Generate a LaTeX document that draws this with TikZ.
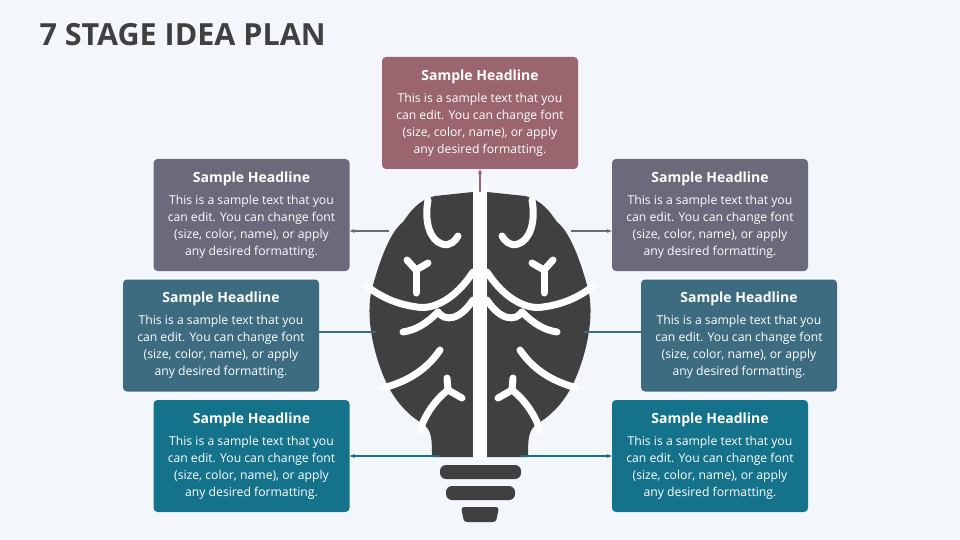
\documentclass[tikz,border=0pt]{standalone}
\usepackage{fontspec}
\setmainfont{Open Sans}
\usetikzlibrary{arrows.meta}
\definecolor{bgc}{HTML}{F3F7FB}
\definecolor{dark}{HTML}{404040}
\definecolor{cA}{HTML}{9B6570}
\definecolor{cB}{HTML}{6A6A7A}
\definecolor{cC}{HTML}{3D6C80}
\definecolor{cD}{HTML}{14728B}
\begin{document}
\begin{tikzpicture}[x=1pt,y=-1pt,
  box/.style={rounded corners=4pt,minimum width=196pt,minimum height=112pt,text=white,align=center,font=\fontsize{12.2}{17}\selectfont,inner sep=0pt},
  con/.style={line width=1.2pt,-{Stealth[length=5pt,width=4pt]}},
  groove/.style={white,line width=7pt,line cap=round}]
\fill[bgc] (0,0) rectangle (960,540);
\useasboundingbox (0,0) rectangle (960,540);
\node[anchor=west,text=dark,font=\bfseries\fontsize{30.5}{36}\selectfont] (title) at (36,35) {7 STAGE IDEA PLAN};
\newcommand{\boxtext}{{\bfseries\fontsize{14}{17}\selectfont Sample Headline}\\[5pt]This is a sample text that you\\can edit. You can change font\\(size, color, name), or apply\\any desired formatting.}
\node[box,fill=cA] (b1) at (480,113) {\boxtext};
\node[box,fill=cB] (b2) at (251.5,215) {\boxtext};
\node[box,fill=cB] (b3) at (710,215) {\boxtext};
\node[box,fill=cC] (b4) at (221,335.5) {\boxtext};
\node[box,fill=cC] (b5) at (739,335.5) {\boxtext};
\node[box,fill=cD] (b6) at (251.5,456) {\boxtext};
\node[box,fill=cD] (b7) at (710,456) {\boxtext};
% brain
\foreach \s in {1,-1}{
\begin{scope}[xshift=480pt,xscale=\s]
\fill[dark] (-7,192) -- (-45,196) .. controls (-62,200) and (-70,212) .. (-77,222)
 .. controls (-90,232) and (-100,260) .. (-107,285) .. controls (-115,310) and (-108,345) .. (-100,367)
 .. controls (-92,390) and (-80,410) .. (-57,424) .. controls (-48,430) and (-48,440) .. (-48,457)
 -- (-7,457) -- cycle;
\draw[groove] (-52,200) .. controls (-56,222) and (-50,240) .. (-38,244) .. controls (-30,247) and (-24,240) .. (-22,236);
\draw[groove] (-73,260) -- (-64,270) -- (-52,263);
\draw[groove] (-64,270) -- (-64,293);
\draw[groove] (-112,287) .. controls (-95,300) and (-78,305) .. (-63,307) .. controls (-48,310) and (-25,300) .. (-7,272);
\draw[groove] (-42,312) .. controls (-55,325) and (-65,330) .. (-77,332);
\draw[groove] (-7,300) .. controls (-20,320) and (-35,322) .. (-42,312);
\draw[groove] (-40,350) .. controls (-55,372) and (-75,382) .. (-97,388);
\draw[groove] (-33,378) -- (-32,390) -- (-18,398);
\draw[groove] (-32,390) .. controls (-45,400) and (-55,415) .. (-60,430);
\end{scope}}
\fill[white] (473,185) rectangle (487,460);
\fill[dark,rounded corners=6pt] (440,465) rectangle (521,479);
\fill[dark,rounded corners=6pt] (446,486) rectangle (515,500);
\fill[dark,rounded corners=3pt] (461,507) -- (499,507) -- (496,522) -- (464,522) -- cycle;
\coordinate (t0) at (480,192);
\coordinate (l1) at (389,231); \coordinate (r1) at (571,231);
\coordinate (l2) at (376,332); \coordinate (r2) at (584,332);
\coordinate (l3) at (439,456); \coordinate (r3) at (521,456);
\draw[con,cA] (t0) -- (b1.south);
\draw[con,cB] (l1) -- (l1-|b2.east);
\draw[con,cB] (r1) -- (r1-|b3.west);
\draw[line width=1.2pt,cC] (l2) -- (l2-|b4.east);
\draw[line width=1.2pt,cC] (r2) -- (r2-|b5.west);
\draw[con,cD] (l3) -- (l3-|b6.east);
\draw[con,cD] (r3) -- (r3-|b7.west);
\end{tikzpicture}
\end{document}
